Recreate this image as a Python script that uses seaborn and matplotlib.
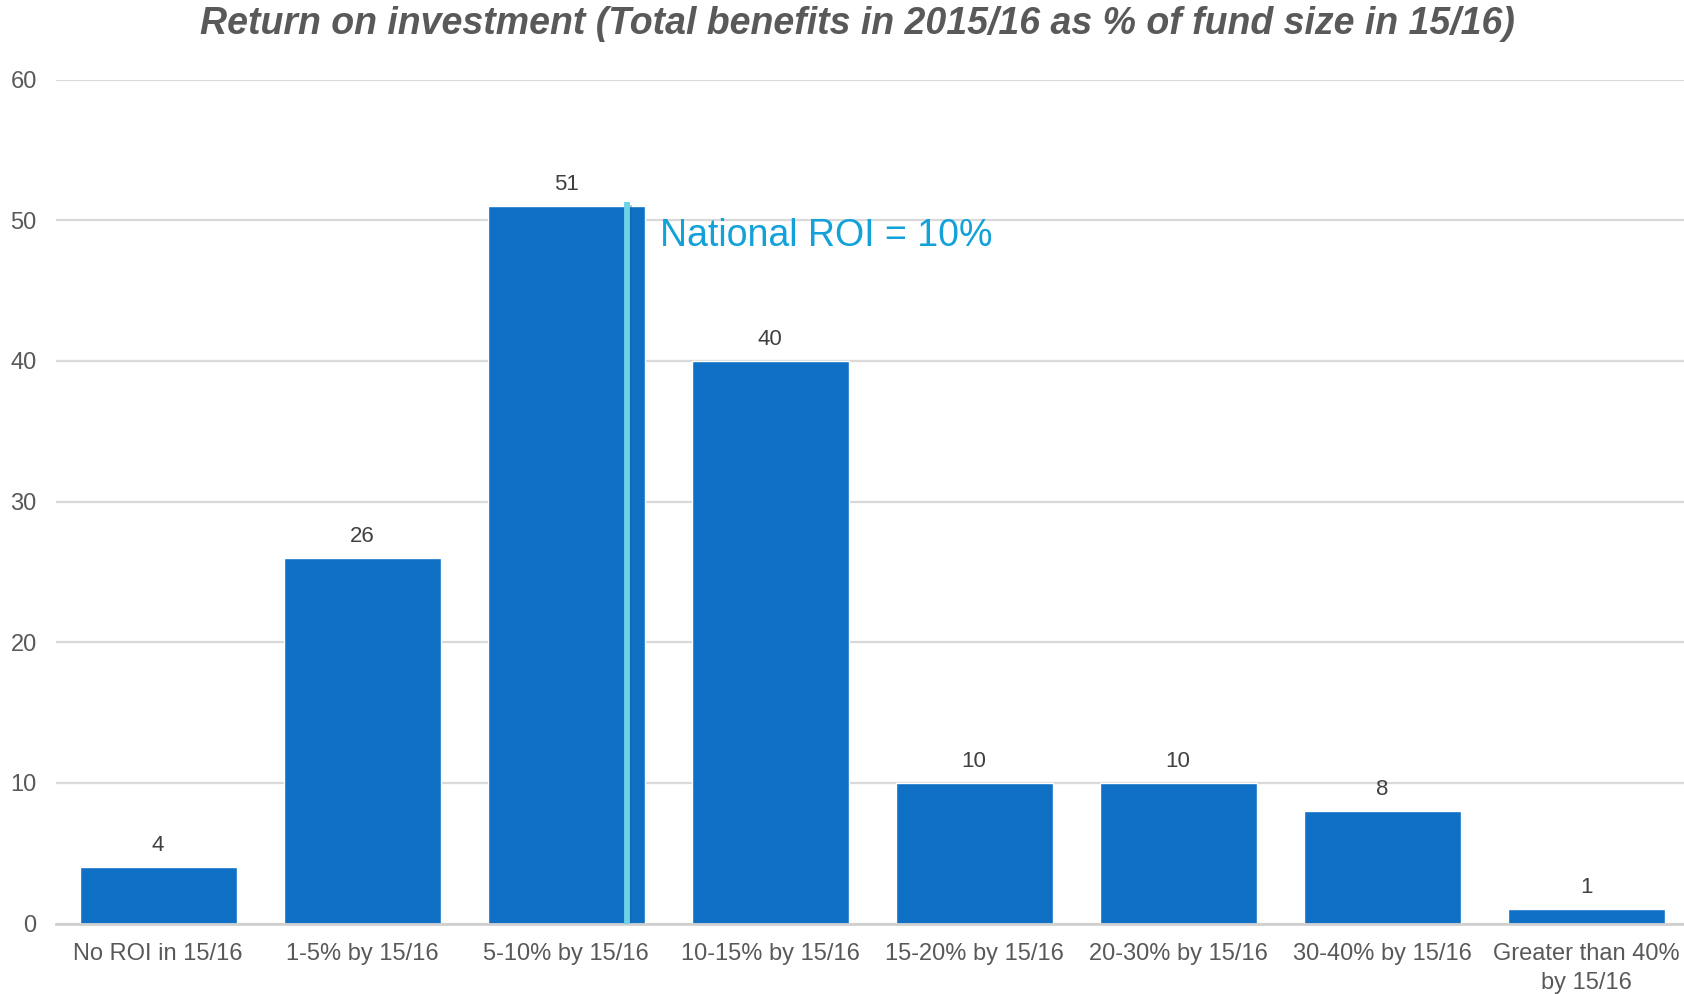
import matplotlib
matplotlib.use("Agg")
import matplotlib.pyplot as plt
import seaborn as sns
import pandas as pd

categories = ["No ROI in 15/16", "1-5% by 15/16", "5-10% by 15/16", "10-15% by 15/16",
              "15-20% by 15/16", "20-30% by 15/16", "30-40% by 15/16",
              "Greater than 40%\nby 15/16"]
counts = [4, 26, 51, 40, 10, 10, 8, 1]
y_ticks = [0, 10, 20, 30, 40, 50, 60]
national_roi_pos = 2.3
national_roi_label = "National ROI = 10%"
title = "Return on investment (Total benefits in 2015/16 as % of fund size in 15/16)"

sns.set_theme(style="white")
plt.rcParams["font.family"] = ["Liberation Sans", "DejaVu Sans"]

df = pd.DataFrame({"category": categories, "count": counts})

fig = plt.figure(figsize=(16.84, 9.94), dpi=100)
ax = fig.add_axes([0.0333, 0.0709, 0.9667, 0.849])

sns.barplot(data=df, x="category", y="count", color="#1070C6", saturation=1,
            width=0.77, ax=ax, zorder=3)

ax.set_xlim(-0.5, 7.48)
ax.set_ylim(0, 60)
ax.set_yticks(y_ticks)
ax.set_yticklabels([str(t) for t in y_ticks])
ax.yaxis.grid(True, color="#D9D9D9", linewidth=1.6, zorder=0)
ax.set_axisbelow(True)
for s in ["top", "right", "left"]:
    ax.spines[s].set_visible(False)
ax.spines["bottom"].set_color("#D0D0D0")
ax.spines["bottom"].set_linewidth(2)
ax.spines["bottom"].set_zorder(4)
ax.set_xlabel("")
ax.set_ylabel("")
ax.tick_params(axis="x", length=0, pad=14, labelsize=17, labelcolor="#595959")
ax.tick_params(axis="y", length=0, pad=14, labelsize=17, labelcolor="#595959")
for lbl in ax.get_xticklabels():
    lbl.set_linespacing(1.4)

for i, v in enumerate(counts):
    ax.annotate(str(v), (i, v), xytext=(0, 8), textcoords="offset points",
                ha="center", va="bottom", fontsize=16, color="#404040")

# national average marker
ax.plot([national_roi_pos + 0.006, national_roi_pos + 0.006], [-0.2, 51.1],
        color="#1A5C99", linewidth=4.2, alpha=0.35, zorder=4, solid_capstyle="butt")
ax.plot([national_roi_pos, national_roi_pos], [0, 51.3],
        color="#6FD3E8", linewidth=4.2, zorder=5, solid_capstyle="butt")
ax.text(2.458, 48.85, national_roi_label, ha="left", va="center",
        fontsize=27, color="#12A1D9", zorder=6)

fig.text(0.509, 0.976, title, ha="center", va="center", fontsize=27,
         fontweight="bold", fontstyle="italic", color="#595959")

fig.savefig("out.png", dpi=100, facecolor="white")
